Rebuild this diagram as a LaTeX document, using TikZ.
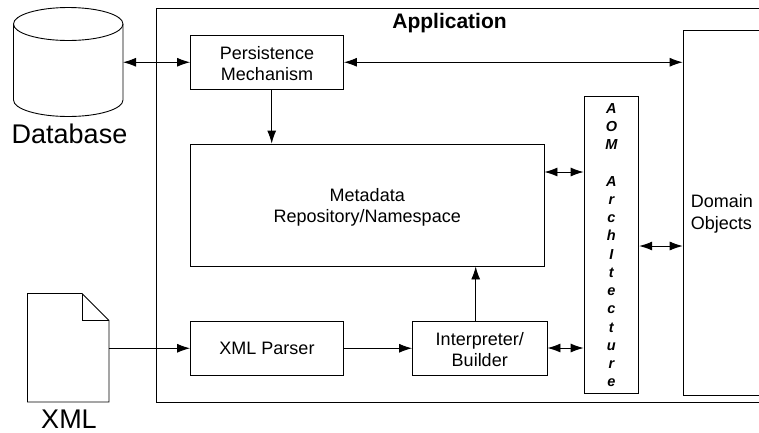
\documentclass[tikz,border=0pt]{standalone}
\usepackage{fontspec}
\setmainfont{Liberation Sans}
\usetikzlibrary{arrows.meta}
\tikzset{
  x=1pt,y=-1pt,
  box/.style={draw=black,line width=0.9pt,inner sep=0pt,align=center,font=\fontsize{18}{21.6}\selectfont},
  ghost/.style={inner sep=0pt,outer sep=0pt},
  conn/.style={line width=0.9pt,-{Latex[length=13pt,width=9pt]}},
  biconn/.style={line width=0.9pt,{Latex[length=13pt,width=9pt]}-{Latex[length=13pt,width=9pt]}},
  biglabel/.style={inner sep=0pt,font=\fontsize{27}{32}\selectfont}
}
\newcommand{\bx}[6]{\node[#2,minimum width=#5-#3,minimum height=#6-#4] (#1) at ({(#3+#5)/2},{(#4+#6)/2})}
\newcommand{\lowered}[1]{\rule{0pt}{#1}}
\begin{document}
\begin{tikzpicture}[line join=miter]
\useasboundingbox (0,0) rectangle (759,432);
\begin{scope}
\clip (0,0) rectangle (759,432);
\draw[line width=0.9pt] (759,8) coordinate (appTR) -- (156.5,8) -- (156.5,402) -- (759,402);
\end{scope}
\node[inner sep=0pt,anchor=base,font=\bfseries\fontsize{21}{24}\selectfont] (apptitle) at (449.5,28) {Application};

% Database
\node[ghost,minimum width=109.5pt,minimum height=109pt] (db) at (68.25,62.5) {};
\draw[line width=0.9pt] (13.5,24) -- (13.5,100) arc[start angle=180,end angle=0,x radius=54.75,y radius=16.5] -- (123,24);
\draw[line width=0.9pt] (68.25,24) ellipse[x radius=54.75,y radius=16.5];
\node[biglabel,anchor=base] (dblabel) at (69.5,143.5) {Database};

% XML document
\node[ghost,minimum width=81.5pt,minimum height=109pt] (doc) at (68,347.5) {};
\draw[line width=0.9pt] (27.5,293.5) -- (82,293.5) -- (109,320.5) -- (109,402) -- (27.5,402) -- cycle;
\draw[line width=0.9pt] (82,293.5) -- (82,320.5) -- (109,320.5);
\node[biglabel,anchor=base] (xmllabel) at (69,428) {XML};

% Boxes
\bx{pers}{box}{190.5}{35}{343.5}{89.5} {\lowered{16pt}Persistence\\Mechanism};
\bx{meta}{box}{190.5}{144}{544}{266} {\lowered{18pt}Metadata\\Repository/Namespace};
\bx{parser}{box}{190.5}{321}{343.5}{375.5} {XML Parser};
\bx{interp}{box}{412.5}{321}{547}{375.5} {\lowered{16pt}Interpreter/\\Builder};
\node[box,minimum width=54.7pt,minimum height=297.5pt,font=\bfseries\itshape\fontsize{14.5}{18.25}\selectfont] (aom) at (611.4,245)
  {A\\O\\M\\[18.25pt]A\\r\\c\\h\\I\\t\\e\\c\\t\\u\\r\\e};
\begin{scope}
\clip (0,0) rectangle (759,432);
\node[box,anchor=north west,minimum width=100pt,minimum height=365pt] (dom) at (682.7,30) {};
\end{scope}
\node[inner sep=0pt,align=left,anchor=west,font=\fontsize{18}{21.6}\selectfont] (domlabel) at (690.7,214) {Domain\\Objects};

% Connectors
\draw[biconn] (db.east |- pers.west) -- (pers.west);
\draw[biconn] (pers.east) -- (dom.west |- pers.east);
\draw[conn] (271.7,0 |- pers.south) -- (271.7,0 |- meta.north);
\draw[biconn] (meta.east |- 0,172) -- (aom.west |- 0,172);
\draw[biconn] (aom.east |- 0,246) -- (dom.west |- 0,246);
\draw[conn] (doc.east |- parser.west) -- (parser.west);
\draw[conn] (parser.east) -- (interp.west);
\draw[conn] (475.7,0 |- interp.north) -- (475.7,0 |- meta.south);
\draw[biconn] (interp.east |- 0,348) -- (aom.west |- 0,348);
\end{tikzpicture}
\end{document}
